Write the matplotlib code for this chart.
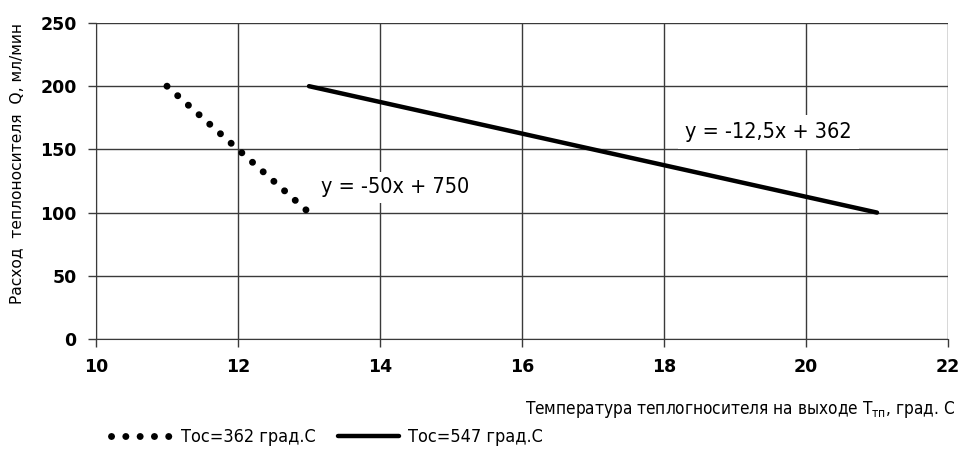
import numpy as np
import matplotlib
matplotlib.use("Agg")
import matplotlib.pyplot as plt

# data
t_362 = [11, 13]
q_362 = [200, 100]
t_547 = [13, 21]
q_547 = [200, 100]
labels = ["Тос=362 град.С", "Тос=547 град.С"]
eq_362 = "y = -50x + 750"
eq_547 = "y = -12,5x + 362"
x_ticks = [10, 12, 14, 16, 18, 20, 22]
y_ticks = [0, 50, 100, 150, 200, 250]

plt.rcParams["font.family"] = ["DejaVu Sans"]
plt.rcParams["font.stretch"] = "condensed"

fig = plt.figure(figsize=(9.6, 4.55), dpi=100)
ax = fig.add_axes([0.1, 0.255, 0.8875, 0.6945])

ax.plot(t_362, q_362, color="black", lw=5.0, linestyle=(0, (0.01, 2.05)),
        dash_capstyle="round", label=labels[0], zorder=3)
ax.plot(t_547, q_547, color="black", lw=3.2, solid_capstyle="round",
        label=labels[1], zorder=3)

ax.set_xlim(10, 22)
ax.set_ylim(0, 250)
ax.set_xticks(x_ticks)
ax.set_yticks(y_ticks)
ax.grid(True, color="#3a3a3a", lw=1.0)
ax.set_axisbelow(True)
for s in ["top", "right"]:
    ax.spines[s].set_visible(False)
for s in ["left", "bottom"]:
    ax.spines[s].set_color("#3a3a3a")
ax.tick_params(length=6, width=1.0, color="#3a3a3a", pad=8)
for lab in ax.get_xticklabels() + ax.get_yticklabels():
    lab.set_fontweight("bold")
    lab.set_fontsize(12.5)
    lab.set_fontstretch("normal")

ax.text(13.17, 120, eq_362, fontsize=15.5, va="center", ha="left", zorder=4,
        bbox=dict(facecolor="white", edgecolor="none", pad=4))
ax.text(18.3, 164, eq_547, fontsize=15.5, va="center", ha="left", zorder=4,
        bbox=dict(facecolor="white", edgecolor="none", pad=5))

fig.text(0.018, 1 - 163 / 455, "Расход  теплоносителя  Q, мл/мин",
         rotation=90, ha="center", va="center", fontsize=11.2,
         fontstretch="normal")
fig.text(955 / 960, 1 - 409 / 455,
         "Температура теплогносителя на выходе T$_{\\mathrm{тп}}$, град. С",
         ha="right", va="center", fontsize=12.3)

leg = fig.legend(loc="center left", bbox_to_anchor=(0.108, 1 - 437 / 455),
                 ncol=2, frameon=False, fontsize=13, handlelength=3.4,
                 columnspacing=1.2, handletextpad=0.5, borderaxespad=0)

plt.savefig("out.png", dpi=100)
